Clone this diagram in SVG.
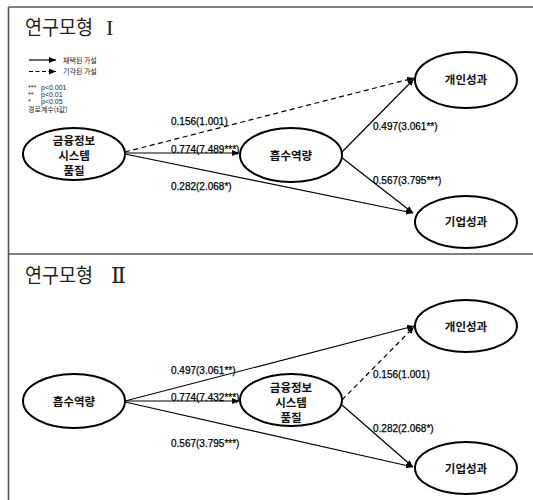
<svg xmlns="http://www.w3.org/2000/svg" width="533" height="500" viewBox="0 0 533 500">
<style>
.frame{stroke:#555;stroke-width:1.6;fill:none}
.node{fill:#fff;stroke:#000;stroke-width:2}
.nt{font-family:"Noto Sans CJK KR",sans-serif;font-weight:bold;font-size:11.5px;fill:#111;text-anchor:middle}
.title{font-family:"Noto Sans CJK KR",sans-serif;font-size:20px;fill:#222}
.rn{font-family:"Liberation Serif","DejaVu Serif",serif;font-size:22px;fill:#222}
.lbl{font-family:"Liberation Sans",Arial,sans-serif;font-size:10px;fill:#000;stroke:#000;stroke-width:0.25}
.lg{font-family:"Noto Sans CJK KR",sans-serif;font-size:7px;fill:#222}
.lgn{font-family:"Liberation Sans",sans-serif;font-size:7px;fill:#222}
.ln{stroke:#000;stroke-width:1.2;fill:none;marker-end:url(#ah)}
.dash{stroke-dasharray:5,3.5}
</style>
<defs>
<marker id="ah" markerWidth="8" markerHeight="6" refX="7" refY="3" orient="auto" markerUnits="userSpaceOnUse">
<path d="M0,0 L7,3 L0,6 Z" fill="#000"/>
</marker>
</defs>
<rect width="533" height="500" fill="#fff"/>
<g id="frame">
<line class="frame" x1="8.5" y1="7" x2="533" y2="7"/>
<line class="frame" x1="8.5" y1="7" x2="8.5" y2="500"/>
<line class="frame" x1="8.5" y1="254" x2="533" y2="254"/>
</g>
<g id="titles">
<text class="title" x="25" y="35" textLength="68" lengthAdjust="spacingAndGlyphs">연구모형</text>
<text class="rn" x="106" y="35">I</text>
<text class="title" x="25" y="283" textLength="68" lengthAdjust="spacingAndGlyphs">연구모형</text>
<text class="rn" x="111" y="283">Ⅱ</text>
</g>
<g id="legend">
<line class="ln" x1="29" y1="60" x2="56" y2="60"/>
<text class="lg" x="63" y="62.5">채택된 가설</text>
<line class="ln dash" x1="29" y1="71.5" x2="56" y2="71.5" style="stroke-dasharray:4,2.5"/>
<text class="lg" x="63" y="74">기각된 가설</text>
<text class="lgn" x="28" y="90">***</text>
<text class="lgn" x="41" y="90">p&lt;0.001</text>
<text class="lgn" x="28" y="97">**</text>
<text class="lgn" x="41" y="97">p&lt;0.01</text>
<text class="lgn" x="28" y="104">*</text>
<text class="lgn" x="41" y="104">p&lt;0.05</text>
<text class="lg" x="28" y="112">경로계수(t값)</text>
</g>
<g id="connectors">
<line class="ln dash" x1="125" y1="152" x2="414" y2="78"/>
<line class="ln" x1="125" y1="153" x2="239" y2="153"/>
<line class="ln" x1="125" y1="154" x2="413" y2="213"/>
<line class="ln" x1="341" y1="153" x2="414" y2="79"/>
<line class="ln" x1="341" y1="157" x2="413" y2="213"/>
<line class="ln" x1="125" y1="401" x2="414" y2="326"/>
<line class="ln" x1="125" y1="401" x2="239" y2="401"/>
<line class="ln" x1="125" y1="402" x2="413" y2="467"/>
<line class="ln dash" x1="342" y1="400" x2="414" y2="327"/>
<line class="ln" x1="342" y1="405" x2="413" y2="467"/>
</g>
<g id="labels">
<text class="lbl" x="171" y="125">0.156(1.001)</text>
<text class="lbl" x="171" y="153">0.774(7.489***)</text>
<text class="lbl" x="171" y="190">0.282(2.068*)</text>
<text class="lbl" x="373" y="130">0.497(3.061**)</text>
<text class="lbl" x="373" y="184">0.567(3.795***)</text>
<text class="lbl" x="171" y="374">0.497(3.061**)</text>
<text class="lbl" x="171" y="401">0.774(7.432***)</text>
<text class="lbl" x="171" y="447">0.567(3.795***)</text>
<text class="lbl" x="373" y="378">0.156(1.001)</text>
<text class="lbl" x="373" y="432">0.282(2.068*)</text>
</g>
<g id="n1-fisq">
<ellipse class="node" cx="74" cy="154" rx="51" ry="26"/>
<text class="nt" x="74" y="145">금융정보</text>
<text class="nt" x="74" y="160">시스템</text>
<text class="nt" x="74" y="175">품질</text>
</g>
<g id="n1-absorb">
<ellipse class="node" cx="291" cy="155" rx="51" ry="27"/>
<text class="nt" x="291" y="159.5">흡수역량</text>
</g>
<g id="n1-indiv">
<ellipse class="node" cx="466" cy="80" rx="51" ry="28"/>
<text class="nt" x="466" y="84">개인성과</text>
</g>
<g id="n1-corp">
<ellipse class="node" cx="466" cy="222" rx="51" ry="26"/>
<text class="nt" x="466" y="226">기업성과</text>
</g>
<g id="n2-absorb">
<ellipse class="node" cx="74" cy="401" rx="51" ry="27"/>
<text class="nt" x="74" y="405.5">흡수역량</text>
</g>
<g id="n2-fisq">
<ellipse class="node" cx="291" cy="400" rx="51" ry="26"/>
<text class="nt" x="291" y="392">금융정보</text>
<text class="nt" x="291" y="407">시스템</text>
<text class="nt" x="291" y="422">품질</text>
</g>
<g id="n2-indiv">
<ellipse class="node" cx="466" cy="326" rx="51" ry="26"/>
<text class="nt" x="466" y="330.5">개인성과</text>
</g>
<g id="n2-corp">
<ellipse class="node" cx="466" cy="468" rx="51" ry="26"/>
<text class="nt" x="466" y="472.5">기업성과</text>
</g>
</svg>
